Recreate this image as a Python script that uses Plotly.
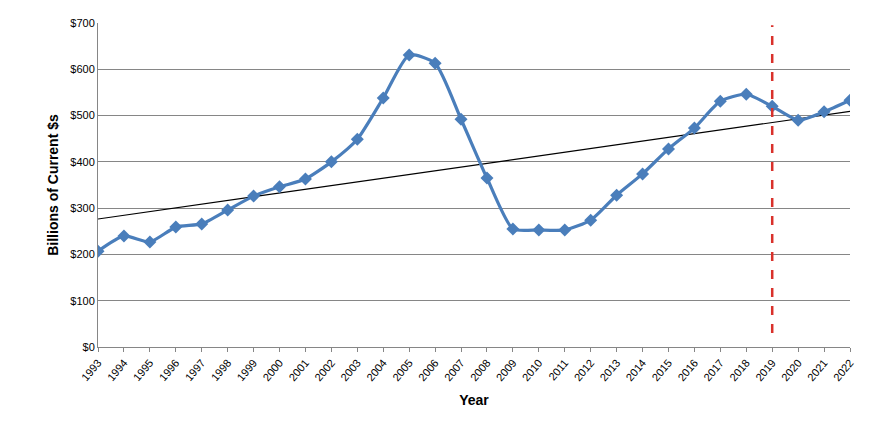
import numpy as np
import plotly.graph_objects as go

years = list(range(1993, 2023))
values = [207, 240, 227, 259, 266, 296, 326, 346, 363, 400, 449, 538, 631, 613, 492,
          365, 255, 253, 253, 274, 328, 374, 428, 473, 531, 546, 520, 490, 508, 533]
marker_year = 2019
y_ticks = [0, 100, 200, 300, 400, 500, 600, 700]

# linear trend line
slope, intercept = np.polyfit(years, values, 1)
trend = [slope * yr + intercept for yr in years]

fig = go.Figure()
fig.add_trace(go.Scatter(
    x=years, y=trend, mode='lines',
    line=dict(color='black', width=1.2), hoverinfo='skip'
))
fig.add_trace(go.Scatter(
    x=years, y=values, mode='lines+markers',
    line=dict(color='#4a7ebb', width=3.2, shape='spline', smoothing=0.6),
    marker=dict(symbol='diamond', size=10, color='#4a7ebb')
))

fig.add_shape(type='line', xref='x', yref='y',
              x0=marker_year, x1=marker_year, y0=30, y1=695,
              line=dict(color='#d9312b', width=2.5, dash='dash'))

fig.update_layout(
    width=870, height=422,
    margin=dict(l=90, r=28, t=15, b=83),
    paper_bgcolor='white', plot_bgcolor='white',
    showlegend=False,
    font=dict(family='Liberation Sans, Arial, sans-serif', size=11, color='black'),
)
fig.update_xaxes(
    range=[1993, 2022], tickmode='array', tickvals=years,
    ticktext=[str(y) for y in years], tickangle=-50,
    showgrid=False, showline=True, linecolor='#868686',
    ticks='outside', ticklen=4, tickcolor='#868686', automargin=False,
    title=dict(text='<b>Year</b>', font=dict(size=14), standoff=12),
)
fig.update_yaxes(
    range=[0, 700], tickmode='array', tickvals=y_ticks,
    ticktext=[f'${v}' for v in y_ticks],
    showgrid=True, gridcolor='#868686', gridwidth=1,
    showline=True, linecolor='#868686', zeroline=False, automargin=False,
    title=dict(text='<b>Billions of Current $s</b>', font=dict(size=14), standoff=8),
)

fig.write_html("out.html")
